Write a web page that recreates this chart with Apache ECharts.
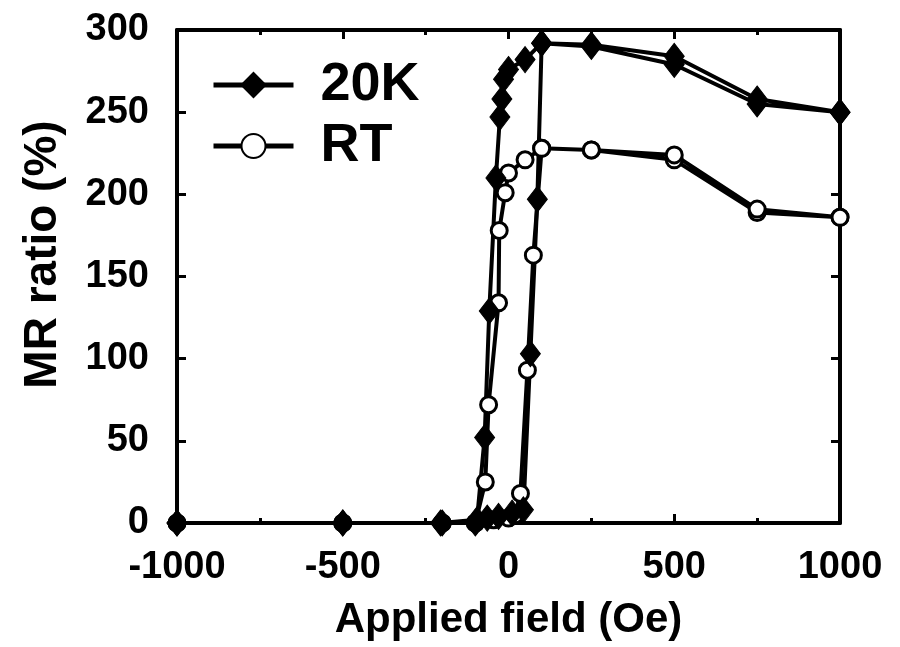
<!DOCTYPE html>
<html>
<head>
<meta charset="utf-8">
<script src="https://cdn.jsdelivr.net/npm/echarts@6/dist/echarts.min.js"></script>
<style>
html,body{margin:0;padding:0;background:#fff;}
#chart{width:900px;height:647px;}
</style>
</head>
<body>
<div id="chart"></div>
<script>
// Data (field in Oe, MR ratio in %), each loop: descending branch then ascending branch
const seriesNames = ['20K', 'RT'];
const field20K = [1000, 750, 500, 250, 100, 50, 0, -15, -20, -26, -38, -58, -72, -95, -205, -500, -1000,
                  -1000, -500, -200, -100, -64, -30, 11, 45, 66, 87, 100, 250, 500, 750, 1000];
const mr20K    = [250, 255, 279, 290, 292, 282, 276, 270, 258, 247, 210, 129, 52, 2, 0, 0, 0,
                  0, 0, 0, 0, 3, 4, 6, 8, 103, 197, 292, 291, 284, 258, 250];
const fieldRT  = [1000, 750, 500, 250, 100, 50, 0, -10, -28, -30, -60, -70, -100, -200, -500, -1000,
                  -1000, -500, -200, -100, -45, 0, 20, 36, 57, 75, 100, 250, 500, 750, 1000];
const mrRT     = [186, 189, 221, 227, 228, 221, 213, 201, 178, 134, 72, 25, 0, 0, 0, 0,
                  0, 0, 0, 0, 2, 3, 5, 18, 93, 163, 228, 227, 224, 191, 186];
const xTicks = [-1000, -500, 0, 500, 1000];
const yTicks = [0, 50, 100, 150, 200, 250, 300];
const xTitle = 'Applied field (Oe)';
const yTitle = 'MR ratio (%)';

const pairs = (xs, ys) => xs.map((x, i) => [x, ys[i]]);

const chart = echarts.init(document.getElementById('chart'), null, {renderer: 'canvas'});
const labelFont = {color: '#000', fontFamily: '"Liberation Sans Narrow", "Liberation Sans", Arial, sans-serif', fontWeight: 'bold', fontSize: 38,
                   formatter: v => String(v)};
const axisLine = {show: true, onZero: false, lineStyle: {color: '#000', width: 4}};
const tick = {show: true, inside: true, length: 9, lineStyle: {color: '#000', width: 3}};
const minor = {show: true, splitNumber: 2, length: 5, lineStyle: {color: '#000', width: 3}};

chart.setOption({
  animation: false,
  backgroundColor: '#fff',
  grid: {left: 177, right: 60, top: 30, bottom: 124, containLabel: false},
  legend: {
    data: seriesNames,
    orient: 'vertical',
    left: 206, top: 53,
    itemWidth: 80, itemHeight: 30, itemGap: 7,
    lineStyle: {width: 5, color: '#000'},
    textStyle: {color: '#000', fontFamily: '"Liberation Sans", Arial, sans-serif', fontWeight: 'bold', fontSize: 54, lineHeight: 54, padding: [0, 0, 0, 22]}
  },
  xAxis: [{
    type: 'value', min: xTicks[0], max: xTicks[xTicks.length - 1], interval: 500,
    position: 'bottom',
    axisLine: axisLine, axisTick: tick, minorTick: minor, splitLine: {show: false},
    axisLabel: Object.assign({margin: 26}, labelFont),
    name: xTitle, nameLocation: 'middle', nameGap: 76,
    nameTextStyle: {color: '#000', fontFamily: '"Liberation Sans", Arial, sans-serif', fontWeight: 'bold', fontSize: 42}
  }, {
    type: 'value', min: xTicks[0], max: xTicks[xTicks.length - 1], interval: 500,
    position: 'top',
    axisLine: axisLine, axisTick: tick, minorTick: minor, splitLine: {show: false},
    axisLabel: {show: false}
  }],
  yAxis: [{
    type: 'value', min: yTicks[0], max: yTicks[yTicks.length - 1], interval: 50,
    position: 'left',
    axisLine: axisLine, axisTick: tick, splitLine: {show: false},
    axisLabel: Object.assign({margin: 28}, labelFont),
    name: yTitle, nameLocation: 'middle', nameGap: 111,
    nameTextStyle: {color: '#000', fontFamily: '"Liberation Sans", Arial, sans-serif', fontWeight: 'bold', fontSize: 46, padding: [0, 0, 0, 44]}
  }, {
    type: 'value', min: yTicks[0], max: yTicks[yTicks.length - 1], interval: 50,
    position: 'right',
    axisLine: axisLine, axisTick: tick, splitLine: {show: false},
    axisLabel: {show: false}
  }],
  series: [{
    name: 'RT', type: 'line', clip: false,
    data: pairs(fieldRT, mrRT),
    symbol: 'circle', symbolSize: 16, showAllSymbol: true,
    lineStyle: {color: '#000', width: 4},
    itemStyle: {color: '#fff', borderColor: '#000', borderWidth: 3}
  }, {
    name: '20K', type: 'line', clip: false,
    data: pairs(field20K, mr20K),
    symbol: 'diamond', symbolSize: [20, 26], showAllSymbol: true,
    lineStyle: {color: '#000', width: 4},
    itemStyle: {color: '#000', borderColor: '#000', borderWidth: 1}
  }]
});
</script>
</body>
</html>
